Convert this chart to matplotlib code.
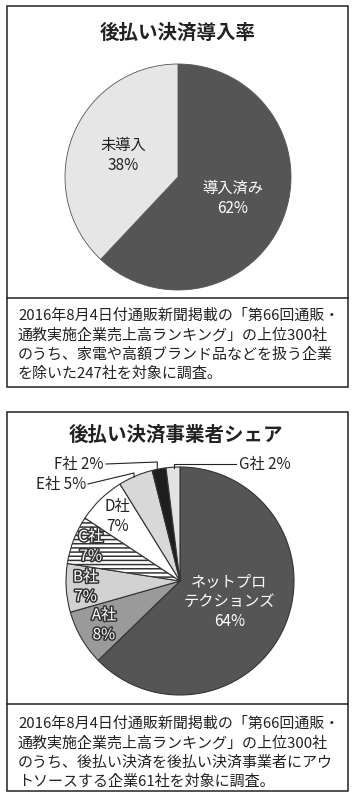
import numpy as np
import matplotlib
matplotlib.use('Agg')
import matplotlib.pyplot as plt
import matplotlib.patheffects as pe
from matplotlib.patches import Rectangle

plt.rcParams['font.family'] = ['Noto Sans CJK JP', 'DejaVu Sans']
plt.rcParams['hatch.linewidth'] = 1.1

# data
title1 = '後払い決済導入率'
labels1 = ['導入済み', '未導入']
values1 = [62, 38]
note1 = ['2016年8月4日付通販新聞掲載の「第66回通販・',
         '通教実施企業売上高ランキング」の上位300社',
         'のうち、家電や高額ブランド品などを扱う企業',
         'を除いた247社を対象に調査。']

title2 = '後払い決済事業者シェア'
labels2 = ['ネットプロ\nテクションズ', 'A社', 'B社', 'C社', 'D社', 'E社', 'F社', 'G社']
values2 = [64, 8, 7, 7, 7, 5, 2, 2]
note2 = ['2016年8月4日付通販新聞掲載の「第66回通販・',
         '通教実施企業売上高ランキング」の上位300社',
         'のうち、後払い決済を後払い決済事業者にアウ',
         'トソースする企業61社を対象に調査。']

W, H = 354, 800
INK = '#222222'

fig = plt.figure(figsize=(W / 100, H / 100), dpi=100)
ax = fig.add_axes([0, 0, 1, 1])


def Y(y):
    # image row (from top) -> data y (from bottom)
    return H - y


def panel(top, mid, bottom, left=7, right=348):
    ax.add_patch(Rectangle((left, Y(bottom)), right - left, bottom - top,
                           fill=False, ec=INK, lw=1.1))
    ax.plot([left, right], [Y(mid), Y(mid)], color=INK, lw=1.1)


def mid_point(w, frac):
    ang = np.deg2rad((w.theta1 + w.theta2) / 2)
    cx, cy = w.center
    return cx + frac * w.r * np.cos(ang), cy + frac * w.r * np.sin(ang)


# ---- panel 1
panel(6, 298, 387)
ax.text(178, Y(33), title1, ha='center', va='center', fontsize=14,
        fontweight='bold', color=INK)
w1, _ = ax.pie(values1, colors=['#555555', '#e6e6e6'], startangle=90,
               counterclock=False, center=(178, Y(177)), radius=113,
               frame=True, wedgeprops=dict(lw=0.6, ec='#555555'))
label_pos1 = [(0.52, 'white'), (0.52, INK)]
for w, lab, v, (d, c) in zip(w1, labels1, values1, label_pos1):
    x, y = mid_point(w, d)
    ax.text(x, y, f'{lab}\n{v}%', ha='center', va='center', fontsize=11,
            color=c, linespacing=1.25)
for i, line in enumerate(note1):
    ax.text(18, Y(316 + i * 19.2), line, ha='left', va='center',
            fontsize=10.8, color=INK)

# ---- panel 2
panel(412, 704, 791)
ax.text(176, Y(435), title2, ha='center', va='center', fontsize=14,
        fontweight='bold', color=INK)
colors2 = ['#555555', '#9a9a9a', '#d2d2d2', 'white', 'white', '#d8d8d8',
           '#1e1e1e', '#e2e2e2']
w2, _ = ax.pie(values2, colors=colors2, startangle=90, counterclock=False,
               center=(180, Y(581)), radius=114, frame=True,
               wedgeprops=dict(lw=0.8, ec='#333333'))
w2[3].set_hatch('----')

inside = {0: (0.47, 'white', False), 1: (0.77, 'white', True),
          2: (0.83, 'white', True), 3: (0.84, 'white', True),
          4: (0.79, INK, False)}
for i, (d, c, stroke) in inside.items():
    x, y = mid_point(w2[i], d)
    t = ax.text(x, y, f'{labels2[i]}\n{values2[i]}%', ha='center',
                va='center', fontsize=11, color=c, linespacing=1.2)
    if stroke:
        t.set_path_effects([pe.withStroke(linewidth=2.2, foreground='#333333')])

# outside labels with leader lines: (elbow y, text anchor x, text y, ha)
outside = {5: (473, 88, 484, 'right'), 6: (462, 106, 464, 'right'),
           7: (464, 236, 464, 'left')}
for i, (ey, tx, ty, ha) in outside.items():
    px, py = mid_point(w2[i], 0.99)
    ax.plot([px - (2 if i != 7 else -1), px - (2 if i != 7 else -1), tx],
            [py, Y(ey), Y(ty)], color=INK, lw=0.8)
    ax.text(tx + (-2 if ha == 'right' else 3), Y(ty), f'{labels2[i]} {values2[i]}%',
            ha=ha, va='center', fontsize=11, color=INK)

for i, line in enumerate(note2):
    ax.text(18, Y(724 + i * 19.2), line, ha='left', va='center',
            fontsize=10.8, color=INK)

ax.set_xlim(0, W)
ax.set_ylim(0, H)
ax.set_aspect('auto')
ax.axis('off')

fig.savefig('out.png', dpi=100, facecolor='white')
